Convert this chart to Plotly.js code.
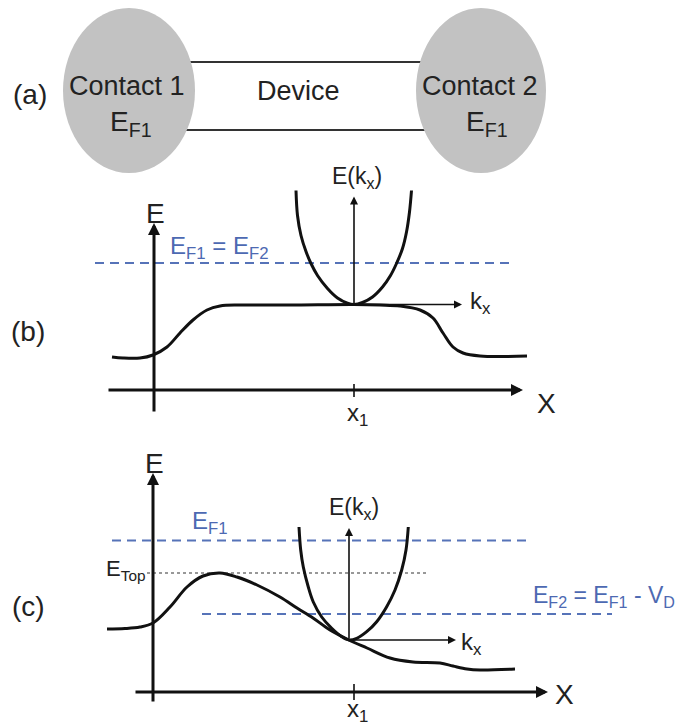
<!DOCTYPE html>
<html>
<head>
<meta charset="utf-8">
<script src="https://cdn.plot.ly/plotly-3.0.1.min.js"></script>
<style>html,body{margin:0;padding:0;background:#fff}</style>
</head>
<body>
<div id="fig" style="width:679px;height:727px"></div>
<script>
// ---- Panel (b): equilibrium, flat band across the device ----
// position measured from the E axis, energy measured from the X axis
const bandB_x = [-42, -31, -14, -1, 13, 26, 39, 53, 66, 86, 136, 200, 226, 246, 266, 279, 289, 299, 309, 326, 373];
const bandB_E = [33, 32, 32, 35, 43, 57, 70, 80, 84, 85, 85, 85.5, 85, 84, 80, 72, 57, 43, 37, 34, 34];
// E(kx) at x1, relative to the band edge
const dispB_k = [-58, -56.5, -53, -48, -43, -36.5, -26.5, -16.5, -6.5, 0, 8.5, 18.5, 28.5, 36.5, 42.5, 48.5, 52.5, 55.5, 57.5];
const dispB_E = [114, 89, 69, 53, 41, 29, 16, 6.5, 1.3, 0, 2, 7.5, 17.5, 29, 41, 56, 72.5, 92.5, 114];
const fermiB = 127;          // E_F1 = E_F2
const x1B = 200;             // position x1
const dispOriginB = [200, 85.5];

// ---- Panel (c): applied bias V_D, barrier top E_Top ----
const bandC_x = [-46, -28, -13, 0, 17, 34, 50, 67, 84, 104, 127, 144, 160, 177, 196, 214, 237, 260, 287, 300, 314, 327, 362];
const bandC_E = [63, 63.5, 65, 69, 85, 105, 116, 119, 115, 107, 95, 84, 74, 62, 52, 44, 34, 30, 29, 26, 23, 22, 23];
const dispC_k = [-50, -48.3, -45.7, -40.7, -35.7, -27.3, -17.3, -7.3, 0, 7.7, 17.7, 27.7, 37.7, 46, 52.7, 57, 59.3];
const dispC_E = [113, 90, 73, 53, 38, 23, 11.7, 3.3, 0, 1.7, 8.3, 18.3, 33.3, 50, 70, 90, 113];
const fermi1C = 151.5;       // E_F1
const fermi2C = 78;          // E_F2 = E_F1 - V_D
const eTopC = 119;           // E_Top
const x1C = 201;
const dispOriginC = [196, 52];

// ---- Panel (a) labels ----
const contactNames = ['Contact 1', 'Contact 2'];
const contactLevels = ['E<sub>F1</sub>', 'E<sub>F1</sub>'];
const deviceName = 'Device';
const panelTags = ['(a)', '(b)', '(c)'];

// ---- drawing ----
const W = 679, H = 727;
const ink = '#111111';
const textInk = '#222222';
const blue = '#4d69b2';
const dashBlue = '#5673b8';
const gray = '#c2c2c2';
const FONT = 'Liberation Sans, Arial, Helvetica, sans-serif';

// pixel origins of each coordinate frame
const originB = [154, 390];
const originC = [153, 692];
const originDB = [originB[0] + dispOriginB[0], originB[1] - dispOriginB[1]];
const originDC = [originC[0] + dispOriginC[0], originC[1] - dispOriginC[1]];

function xFrame(o, over) {
  const a = {domain: [0, 1], range: [-o[0], W - o[0]], visible: false, fixedrange: true};
  if (over) a.overlaying = 'x';
  return a;
}
function yFrame(o, over) {
  const a = {domain: [0, 1], range: [o[1] - H, o[1]], visible: false, fixedrange: true};
  if (over) a.overlaying = 'y';
  return a;
}

const traces = [];
function curve(ax, xs, ys, opts) {
  opts = opts || {};
  traces.push({
    type: 'scatter', mode: 'lines', xaxis: 'x' + ax, yaxis: 'y' + ax,
    x: xs, y: ys, hoverinfo: 'skip',
    line: Object.assign({color: ink, width: 3, shape: 'spline', smoothing: 1}, opts)
  });
}
function level(ax, x0, x1, e, opts) {
  curve(ax, [x0, x1], [e, e], Object.assign({shape: 'linear'}, opts));
}

// panel (b)
level(2, -59, 359, fermiB, {color: dashBlue, width: 2, dash: '9px,6px'});
curve(2, bandB_x, bandB_E);
curve(2, [x1B, x1B], [-7, 6], {width: 1.6, shape: 'linear'});
curve(3, dispB_k, dispB_E);

// panel (c)
level(4, -41, 375, fermi1C, {color: dashBlue, width: 2, dash: '9px,6px'});
level(4, 49, 459, fermi2C, {color: dashBlue, width: 2, dash: '9px,6px'});
level(4, -6, 275, eTopC, {color: '#333', width: 1.2, dash: 'dot'});
curve(4, bandC_x, bandC_E);
curve(4, [x1C, x1C], [-8, 8], {width: 1.6, shape: 'linear'});
curve(5, dispC_k, dispC_E);

const ann = [];
function arrow(ax, x0, y0, x1, y1, w, size) {
  const r = ax === 1 ? '' : String(ax);
  ann.push({
    xref: 'x' + r, yref: 'y' + r, axref: 'x' + r, ayref: 'y' + r,
    x: x1, y: y1, ax: x0, ay: y0, text: '', showarrow: true,
    arrowhead: 2, arrowwidth: w, arrowsize: size, arrowcolor: ink,
    standoff: 0, font: {size: 1}
  });
}
function label(ax, x, y, text, o) {
  o = o || {};
  const r = ax === 1 ? '' : String(ax);
  ann.push({
    xref: 'x' + r, yref: 'y' + r, x: x, y: y, text: text, showarrow: false,
    xanchor: o.xanchor || 'center', yanchor: o.yanchor || 'middle',
    font: {family: FONT, size: o.size || 25, color: o.color || textInk}
  });
}

// axes with arrowheads
arrow(2, 0, -23, 0, 167, 3, 0.8);
arrow(2, -47, 0, 369, 0, 3, 0.8);
arrow(3, 0, 0, 0, 108, 1.6, 1.0);
arrow(3, 0, 0, 108, 0, 1.6, 1.0);
arrow(4, 0, -11, 0, 219, 3, 0.8);
arrow(4, -19, 0, 395, 0, 3, 0.8);
arrow(5, 0, 0, 0, 112, 1.6, 1.0);
arrow(5, 0, 0, 107, 0, 1.6, 1.0);

// panel tags (page frame, y downward)
label(1, 30, 94, panelTags[0], {size: 28});
label(1, 28, 331, panelTags[1], {size: 28});
label(1, 28, 606, panelTags[2], {size: 28});

// panel (a) texts
label(1, 127, 86, contactNames[0], {size: 27});
label(1, 131, 123, contactLevels[0], {size: 28});
label(1, 298, 91, deviceName, {size: 27});
label(1, 480, 86, contactNames[1], {size: 27});
label(1, 487, 123, contactLevels[1], {size: 28});

// panel (b) texts
label(2, 1, 177, 'E', {size: 28});
label(2, 392, -13, 'X', {size: 28});
label(2, 203, -24, 'x<sub>1</sub>', {size: 24});
label(2, 14, 143, 'E<sub>F1</sub> = E<sub>F2</sub>', {size: 24, color: blue, xanchor: 'left'});
label(3, 3, 127.5, 'E(k<sub>x</sub>)', {size: 23});
label(3, 114, 2, 'k<sub>x</sub>', {size: 24, xanchor: 'left'});

// panel (c) texts
label(4, 1, 229, 'E', {size: 28});
label(4, 411, -2, 'X', {size: 28});
label(4, 204, -18, 'x<sub>1</sub>', {size: 24});
label(4, 37, 170, 'E<sub>F1</sub>', {size: 24, color: blue, xanchor: 'left'});
label(4, -5, 122, 'E<sub>Top</sub>', {size: 22, xanchor: 'right'});
label(4, 378, 96, 'E<sub>F2</sub> = E<sub>F1</sub> - V<sub>D</sub>', {size: 23, color: blue, xanchor: 'left'});
label(5, 5, 132, 'E(k<sub>x</sub>)', {size: 23});
label(5, 110, -3, 'k<sub>x</sub>', {size: 24, xanchor: 'left'});

// panel (a): device channel between two contact reservoirs
const shapes = [
  {type: 'line', xref: 'x', yref: 'y', x0: 150, x1: 460, y0: 62, y1: 62, line: {color: '#333', width: 2}},
  {type: 'line', xref: 'x', yref: 'y', x0: 150, x1: 460, y0: 130, y1: 130, line: {color: '#333', width: 2}},
  {type: 'circle', xref: 'x', yref: 'y', x0: 63, x1: 195, y0: 8, y1: 173, fillcolor: gray, line: {width: 0}},
  {type: 'circle', xref: 'x', yref: 'y', x0: 416, x1: 546, y0: 8, y1: 173, fillcolor: gray, line: {width: 0}}
];

const layout = {
  width: W, height: H,
  margin: {l: 0, r: 0, t: 0, b: 0, pad: 0},
  paper_bgcolor: '#ffffff', plot_bgcolor: '#ffffff',
  showlegend: false,
  xaxis: {domain: [0, 1], range: [0, W], visible: false, fixedrange: true},
  yaxis: {domain: [0, 1], range: [H, 0], visible: false, fixedrange: true},
  xaxis2: xFrame(originB, true), yaxis2: yFrame(originB, true),
  xaxis3: xFrame(originDB, true), yaxis3: yFrame(originDB, true),
  xaxis4: xFrame(originC, true), yaxis4: yFrame(originC, true),
  xaxis5: xFrame(originDC, true), yaxis5: yFrame(originDC, true),
  shapes: shapes,
  annotations: ann,
  font: {family: FONT}
};

Plotly.newPlot('fig', traces, layout, {staticPlot: true, displayModeBar: false});
</script>
</body>
</html>
